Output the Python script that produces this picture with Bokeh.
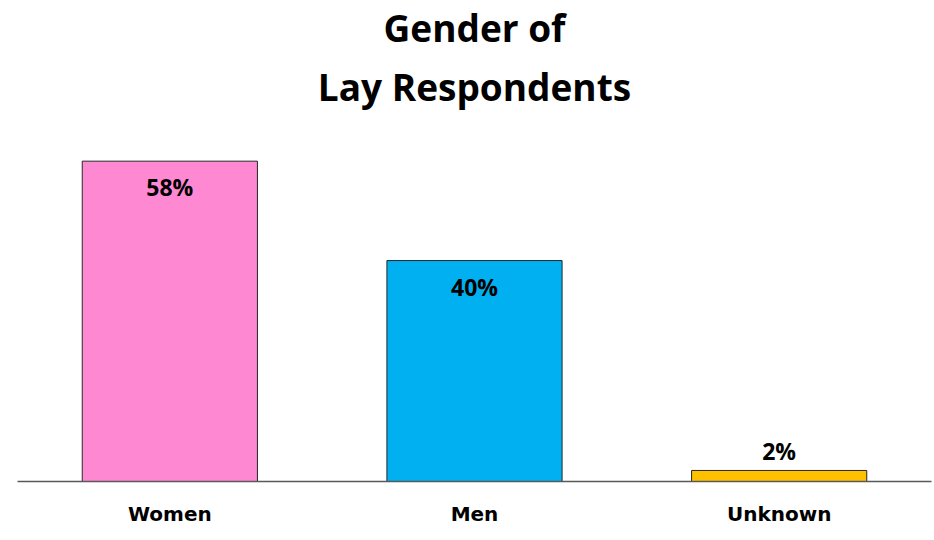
from bokeh.plotting import figure
from bokeh.models import FactorRange, Range1d, Title, ColumnDataSource, LabelSet
from bokeh.core.properties import value
from bokeh.embed import file_html
from bokeh.resources import INLINE

categories = ["Women", "Men", "Unknown"]
values = [58, 40, 2]
colors = ["#FF88D3", "#00B0F0", "#FFC000"]
title_lines = ["Gender of", "Lay Respondents"]

src = ColumnDataSource(dict(cat=categories, val=values, color=colors))

p = figure(x_range=FactorRange(*categories, range_padding=0),
           y_range=Range1d(0, 65),
           width=932, height=538, output_backend="svg", toolbar_location=None,
           min_border_left=17, min_border_right=1, min_border_bottom=57, min_border_top=122)

p.title.visible = False
p.add_layout(Title(text=title_lines[1], align="center", text_font="Open Sans",
                   text_font_size="37px", text_font_style="bold", text_color="black",
                   standoff=22), "above")
p.add_layout(Title(text=title_lines[0], align="center", text_font="Open Sans",
                   text_font_size="37px", text_font_style="bold", text_color="black",
                   standoff=-10), "above")

p.vbar(x="cat", top="val", width=0.575, source=src, fill_color="color",
       line_color="#262626", line_width=1)

inside = ColumnDataSource(dict(cat=[c for c, v in zip(categories, values) if v >= 10],
                               val=[v for v in values if v >= 10],
                               label=[f"{v}%" for v in values if v >= 10]))
outside = ColumnDataSource(dict(cat=[c for c, v in zip(categories, values) if v < 10],
                                val=[v for v in values if v < 10],
                                label=[f"{v}%" for v in values if v < 10]))
for s, off in ((inside, -26), (outside, 19)):
    p.add_layout(LabelSet(x="cat", y="val", text="label", source=s, y_offset=off,
                          text_align="center", text_baseline="middle",
                          text_font=value("Open Sans"), text_font_size=value("23px"),
                          text_font_style=value("bold"), text_color="black"))

p.yaxis.visible = False
p.xgrid.visible = False
p.ygrid.visible = False
p.outline_line_color = None
p.xaxis.axis_line_color = "#595959"
p.xaxis.axis_line_width = 1.5
p.xaxis.major_tick_line_color = None
p.xaxis.minor_tick_line_color = None
p.xaxis.major_label_standoff = 14
p.xaxis.major_label_text_font = "DejaVu Sans"
p.xaxis.major_label_text_font_size = "20px"
p.xaxis.major_label_text_font_style = "bold"
p.xaxis.major_label_text_color = "black"

open("out.html", "w").write(file_html(p, INLINE))
